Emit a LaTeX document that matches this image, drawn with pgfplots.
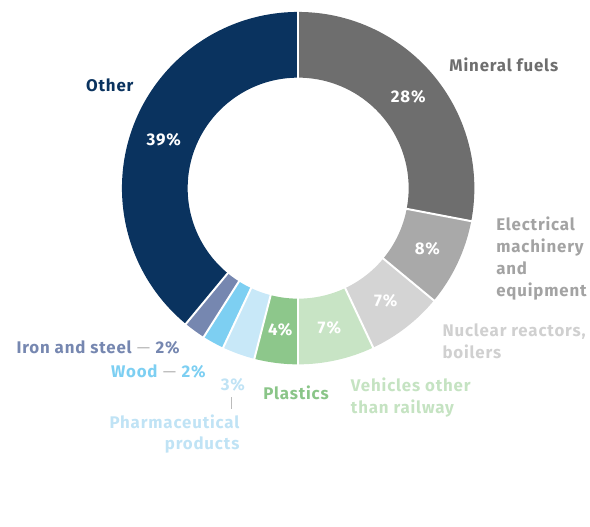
\documentclass[border=0pt]{standalone}
\usepackage{pgfplots}
\pgfplotsset{compat=1.18}
\usepackage{pgfplotstable}
\usepackage{fontspec}
\setmainfont{Fira Sans}[LetterSpace=5]
\definecolor{cMin}{HTML}{6E6E6E}
\definecolor{cEle}{HTML}{A9A9A9}
\definecolor{cNuc}{HTML}{D4D4D4}
\definecolor{cVeh}{HTML}{C8E4C5}
\definecolor{cPla}{HTML}{8DC78B}
\definecolor{cPha}{HTML}{C8E8F8}
\definecolor{cWoo}{HTML}{7DCFF2}
\definecolor{cIro}{HTML}{7687B0}
\definecolor{cOth}{HTML}{0A335F}
\definecolor{tEle}{HTML}{A3A3A3}
\definecolor{tNuc}{HTML}{D0D0D0}
\definecolor{tVeh}{HTML}{C5E3C2}
\definecolor{tPla}{HTML}{8AC588}
\definecolor{tPha}{HTML}{C0E3F5}
\definecolor{dashgray}{HTML}{BBBBBB}
\pgfplotstableread{
value col
28 cMin
8 cEle
7 cNuc
7 cVeh
4 cPla
3 cPha
2 cWoo
2 cIro
39 cOth
}\donut
\newcommand{\lbl}{\fontsize{17}{20}\selectfont\bfseries}
\newcommand{\dsh}{\textcolor{dashgray}{\mdseries\ —\ }}
\begin{document}
\begin{tikzpicture}
\begin{axis}[width=590bp,height=529bp,scale only axis,
  xmin=0,xmax=590,ymin=0,ymax=529,hide axis,clip=false]
\addplot[draw=none] coordinates {(0,0) (590,529)};
\pgfplotsextra{
  \begin{scope}[shift={(axis cs:299.5,340)}]
  \gdef\cum{90}
  \foreach \i in {0,...,8}{
    \pgfplotstablegetelem{\i}{value}\of\donut \let\v\pgfplotsretval
    \pgfplotstablegetelem{\i}{col}\of\donut \let\c\pgfplotsretval
    \pgfmathsetmacro\a{\cum}
    \pgfmathsetmacro\b{\cum-3.6*\v}
    \fill[color=\c] (\a:177bp) arc[start angle=\a,end angle=\b,radius=177bp]
      -- (\b:111bp) arc[start angle=\b,end angle=\a,radius=111bp] -- cycle;
    \xdef\cum{\b}
  }
  \gdef\cum{90}
  \foreach \i in {0,...,8}{
    \pgfplotstablegetelem{\i}{value}\of\donut \let\v\pgfplotsretval
    \pgfmathsetmacro\a{\cum}
    \pgfmathsetmacro\b{\cum-3.6*\v}
    \pgfmathsetmacro\m{(\a+\b)/2}
    \draw[white,line width=2bp] (\a:108bp) -- (\a:180bp);
    \ifnum\v>3
      \node[text=white,font=\lbl] at (\m:143.5bp) {\v\%};
    \fi
    \xdef\cum{\b}
  }
  \end{scope}
}
\node[anchor=base west,text=cOth,font=\lbl] at (axis cs:83,437) {Other};
\node[anchor=base west,text=cMin,font=\lbl] at (axis cs:448,457) {Mineral fuels};
\node[anchor=base west,text=tEle,font=\lbl] at (axis cs:495,297) {Electrical};
\node[anchor=base west,text=tEle,font=\lbl] at (axis cs:495,275) {machinery};
\node[anchor=base west,text=tEle,font=\lbl] at (axis cs:495,253) {and};
\node[anchor=base west,text=tEle,font=\lbl] at (axis cs:495,231) {equipment};
\node[anchor=base west,text=tNuc,font=\lbl] at (axis cs:441,191) {Nuclear reactors,};
\node[anchor=base west,text=tNuc,font=\lbl] at (axis cs:441,169) {boilers};
\node[anchor=base west,text=tVeh,font=\lbl] at (axis cs:349,136) {Vehicles other};
\node[anchor=base west,text=tVeh,font=\lbl] at (axis cs:349,114) {than railway};
\node[anchor=base west,text=tPla,font=\lbl] at (axis cs:261,128) {Plastics};
\node[anchor=base,text=tPha,font=\lbl] at (axis cs:234,137) {3\%};
\draw[dashgray,line width=0.8bp] (axis cs:232,130) -- (axis cs:232,118);
\node[anchor=base east,text=tPha,font=\lbl] at (axis cs:244,99) {Pharmaceutical};
\node[anchor=base east,text=tPha,font=\lbl] at (axis cs:244,77) {products};
\node[anchor=base east,text=cWoo,font=\lbl] at (axis cs:210,150) {Wood\dsh 2\%};
\node[anchor=base east,text=cIro,font=\lbl] at (axis cs:184,174) {Iron and steel\dsh 2\%};
\end{axis}
\end{tikzpicture}
\end{document}
